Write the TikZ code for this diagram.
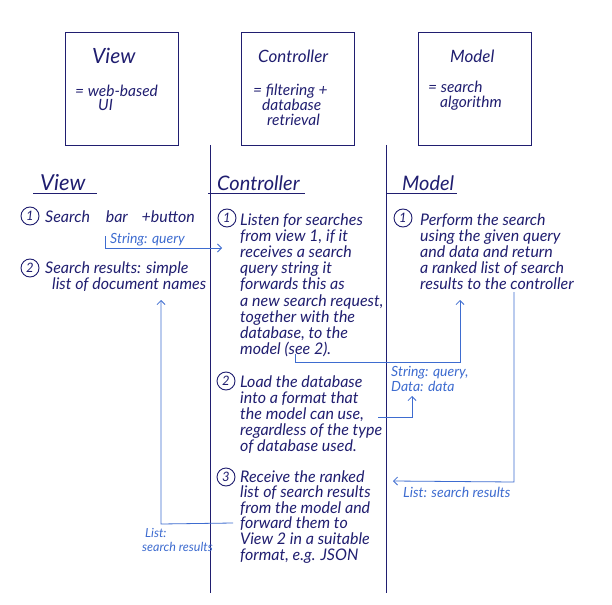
\documentclass[tikz,border=0pt]{standalone}
\usepackage{fontspec}
\setmainfont{Lato}
\usetikzlibrary{arrows.meta}
\definecolor{ink}{RGB}{32,30,112}
\definecolor{blu}{RGB}{62,108,208}
\begin{document}
\begin{tikzpicture}[x=1pt,y=-1pt,
  txt/.style={font=\fontsize{16}{18}\selectfont\itshape, text=ink, inner sep=0, anchor=base west},
  boxtxt/.style={font=\fontsize{15.5}{17}\selectfont\itshape, text=ink, inner sep=0, anchor=base west},
  ttl/.style={font=\fontsize{17}{19}\selectfont\itshape, text=ink, inner sep=0, anchor=base west},
  hdr/.style={font=\fontsize{20}{22}\selectfont\itshape, text=ink, inner sep=0, anchor=base west},
  lbl/.style={font=\fontsize{14}{16}\selectfont\itshape, text=blu, inner sep=0, anchor=base west},
  slbl/.style={font=\fontsize{12.5}{14}\selectfont\itshape, text=blu, inner sep=0, anchor=base west},
  num/.style={circle, draw=ink, line width=0.9pt, minimum size=18pt, inner sep=0, font=\fontsize{13}{13}\selectfont\itshape, text=ink},
  box/.style={draw=ink, line width=0.9pt, minimum width=113pt, minimum height=113pt, inner sep=0},
  divider/.style={draw=ink, line width=0.9pt},
  conn/.style={draw=blu, line width=0.8pt, -{Straight Barb[length=4pt,width=8pt]}}
]
\useasboundingbox (0,0) rectangle (612,604);
\fill[white] (0,0) rectangle (612,604);

% top boxes
\node[box] (vbox) at (121.5,88.5) {};
\node[box] (cbox) at (297.5,88.5) {};
\node[box] (mbox) at (474.5,88.5) {};
\node[ttl, font=\fontsize{21}{23}\selectfont\itshape] (vboxt) at (92,64) {View};
\node[boxtxt] (vboxa) at (75,97) {= web-based};
\node[boxtxt] (vboxb) at (98,111) {UI};
\node[ttl] (cboxt) at (258,63) {Controller};
\node[boxtxt] (cboxa) at (253,96) {= filtering +};
\node[boxtxt] (cboxb) at (262,111) {database};
\node[boxtxt] (cboxc) at (267,126) {retrieval};
\node[ttl] (mboxt) at (450,63) {Model};
\node[boxtxt] (mboxa) at (428,93) {= search};
\node[boxtxt] (mboxb) at (440,108) {algorithm};

% dividers
\coordinate (d1t) at (210,145); \coordinate (d1b) at (210,593);
\coordinate (d2t) at (386,145); \coordinate (d2b) at (386,593);
\draw[divider] (d1t) -- (d1b);
\draw[divider] (d2t) -- (d2b);

% headers
\node[hdr, font=\fontsize{22}{24}\selectfont\itshape] (hv) at (40,190) {View};
\node[hdr] (hc) at (217,190) {Controller};
\node[hdr] (hm) at (402,190) {Model};
\coordinate (u1a) at (33,193); \coordinate (u1b) at (97,193);
\coordinate (u2a) at (208,193); \coordinate (u2b) at (305,193);
\coordinate (u3a) at (386,193); \coordinate (u3b) at (457,193);
\draw[divider] (u1a) -- (u1b);
\draw[divider] (u2a) -- (u2b);
\draw[divider] (u3a) -- (u3b);

% View column
\node[num] (v1n) at (30,216) {1};
\node[txt] (v1t) at (45,222) {Search\hspace{12pt} bar\hspace{10pt} +button};
\node[num] (v2n) at (30,268) {2};
\node[txt] (v2a) at (45,273) {Search results: simple};
\node[txt] (v2b) at (52,289) {list of document names};

% Controller column
\node[num] (c1n) at (227,218) {1};
\foreach \t [count=\i] in {Listen for searches, {from view 1, if it}, receives a search, query string it, forwards this as, {a new search request,}, together with the, {database, to the}, {model (see 2).}}
  \node[txt] (c1l\i) at (240,{225+16.2*(\i-1)}) {\t};
\node[num] (c2n) at (226,381) {2};
\foreach \t [count=\i] in {Load the database, into a format that, {the model can use,}, regardless of the type, of database used.}
  \node[txt] (c2l\i) at (240,{387+16*(\i-1)}) {\t};
\node[num] (c3n) at (226,477) {3};
\foreach \t [count=\i] in {Receive the ranked, list of search results, from the model and, forward them to, View 2 in a suitable, {format, e.g. JSON}}
  \node[txt] (c3l\i) at (240,{482+15.6*(\i-1)}) {\t};

% Model column
\node[num] (m1n) at (403,218) {1};
\foreach \t [count=\i] in {Perform the search, using the given query, and data and return, a ranked list of search, results to the controller}
  \node[txt] (m1l\i) at (420,{225+16.2*(\i-1)}) {\t};

% connector: View 1 -> Controller 1
\coordinate (sq0) at (105,236); \coordinate (sq1) at (105,248); \coordinate (sq2) at (222,248);
\draw[conn] (sq0) -- (sq1) -- (sq2);
\node[lbl] (sqlab) at (110,243) {String: query};

% connector: Controller 1 -> Model 1
\coordinate (a0) at (295,354); \coordinate (a1) at (295,362);
\coordinate (a2) at (460,362); \coordinate (a3) at (460,300);
\draw[conn] (a0) -- (a1) -- (a2) -- (a3);
% connector: Controller 2 -> label
\coordinate (b0) at (378,417); \coordinate (b1) at (412,417); \coordinate (b2) at (412,396);
\draw[conn] (b0) -- (b1) -- (b2);
\node[lbl] (sdlab1) at (391,376) {String: query,};
\node[lbl] (sdlab2) at (391,391) {Data: data};

% connector: Model 1 -> Controller 3
\coordinate (e0) at (514,292); \coordinate (e1) at (514,482); \coordinate (e2) at (393,481);
\draw[conn] (e0) -- (e1) -- (e2);
\node[lbl] (lslab) at (403,497) {List: search results};

% connector: Controller 3 -> View 2
\coordinate (f0) at (233,523); \coordinate (f1) at (161,524); \coordinate (f2) at (161,300);
\draw[conn] (f0) -- (f1) -- (f2);
\node[slbl] (lvlab1) at (145,537) {List:};
\node[slbl] (lvlab2) at (142,551) {search results};
\end{tikzpicture}
\end{document}
